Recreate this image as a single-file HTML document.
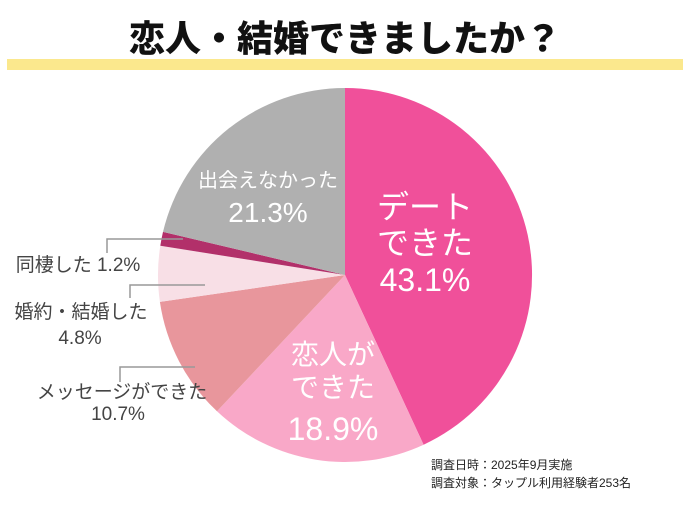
<!DOCTYPE html>
<html><head><meta charset="utf-8"><style>
body{margin:0;background:#fff;}
svg text{font-family:"Liberation Sans","Noto Sans CJK JP",sans-serif;}
</style></head><body>
<svg width="690" height="500" viewBox="0 0 690 500" xmlns="http://www.w3.org/2000/svg">
<rect width="690" height="500" fill="#fff"/>
<text x="345" y="51" text-anchor="middle" font-size="36" font-weight="900" fill="#111">恋人・結婚できましたか？</text>
<rect x="7" y="59" width="676" height="11" fill="#fbe88d"/>
<g>
<path d="M345,275 L345,88 A187,187 0 0 1 423.6,444.7 Z" fill="#f0509a"/>
<path d="M345,275 L423.6,444.7 A187,187 0 0 1 217.0,411.3 Z" fill="#f9a8c8"/>
<path d="M345,275 L217.0,411.3 A187,187 0 0 1 159.9,301.9 Z" fill="#e8969c"/>
<path d="M345,275 L159.9,301.9 A187,187 0 0 1 160.3,245.8 Z" fill="#f8dfe6"/>
<path d="M345,275 L160.3,245.8 A187,187 0 0 1 163.0,231.9 Z" fill="#b2306a"/>
<path d="M345,275 L163.0,231.9 A187,187 0 0 1 345,88 Z" fill="#b0b0b0"/>
</g>
<g fill="#fff" text-anchor="middle">
<text x="425" y="218" font-size="32">デート</text>
<text x="425" y="254" font-size="32">できた</text>
<text x="425" y="291" font-size="32">43.1%</text>
<text x="333" y="364" font-size="28">恋人が</text>
<text x="333" y="397" font-size="28">できた</text>
<text x="333" y="440" font-size="32">18.9%</text>
<text x="268" y="187" font-size="20">出会えなかった</text>
<text x="268" y="222" font-size="28">21.3%</text>
</g>
<g stroke="#999" stroke-width="1.5" fill="none">
<polyline points="107,253 107,239 183,239"/>
<polyline points="130,298 130,285 205,285"/>
<polyline points="120,382 120,367 195,367"/>
</g>
<g fill="#444" font-size="19" text-anchor="middle">
<text x="78" y="271">同棲した 1.2%</text>
<text x="81" y="318">婚約・結婚した</text>
<text x="80" y="344">4.8%</text>
<text x="122" y="398">メッセージができた</text>
<text x="118" y="420">10.7%</text>
</g>
<g fill="#222" font-size="12">
<text x="431" y="469">調査日時：2025年9月実施</text>
<text x="431" y="487">調査対象：タップル利用経験者253名</text>
</g>
</svg>
</body></html>
